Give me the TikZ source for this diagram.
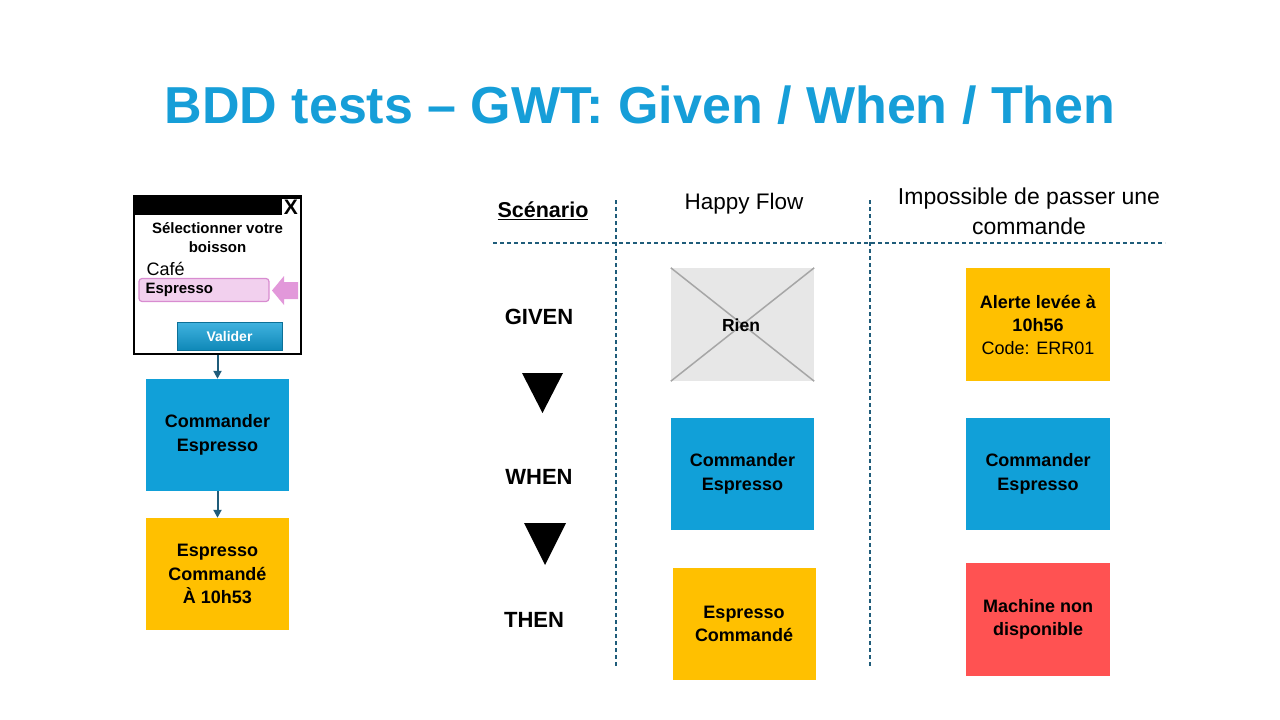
\documentclass[tikz,border=0pt]{standalone}
\usepackage{fontspec}
\setmainfont{Liberation Sans}
\usetikzlibrary{arrows.meta}
\definecolor{titleblue}{RGB}{22,158,216}
\definecolor{boxblue}{RGB}{17,160,216}
\definecolor{boxyellow}{RGB}{255,192,0}
\definecolor{boxred}{RGB}{255,82,82}
\definecolor{teal}{RGB}{31,92,122}
\definecolor{pinkfill}{RGB}{242,208,238}
\definecolor{pinkline}{RGB}{216,140,208}
\definecolor{pinkarrow}{RGB}{226,152,218}
\definecolor{riengray}{RGB}{231,231,231}
\definecolor{xgray}{RGB}{166,166,166}
\tikzset{
  card/.style={minimum width=143pt,minimum height=112pt,inner sep=0pt,align=center,
    font=\fontsize{18}{23.5}\selectfont\bfseries},
  bluecard/.style={card,fill=boxblue},
  yellowcard/.style={card,fill=boxyellow},
  redcard/.style={card,fill=boxred},
  flow/.style={draw=teal,line width=2pt,-{Triangle[length=8pt,width=8pt]}},
  grid/.style={draw=teal,line width=1.3pt,dash pattern=on 4pt off 3pt},
  phase/.style={font=\fontsize{22}{25}\selectfont\bfseries},
  head/.style={font=\fontsize{23}{30}\selectfont,align=center}
}
\begin{document}
\begin{tikzpicture}[x=1pt,y=-1pt]
\useasboundingbox (0,0) rectangle (1280,720);
% title
\node[text=titleblue,font=\fontsize{52}{60}\selectfont\bfseries] (title) at (640,105) {BDD tests -- GWT: Given / When / Then};

% dialog
\node[draw=black,line width=2pt,minimum width=167pt,minimum height=158pt,inner sep=0pt] (dlg) at (217.5,275) {};
\fill[black] (134,196) rectangle (301,215);
\node[fill=white,minimum width=18pt,minimum height=17pt,inner sep=0pt,font=\fontsize{21}{21}\selectfont\bfseries] (close) at (291,207) {X};
\node[font=\fontsize{15}{19}\selectfont\bfseries,align=center] (prompt) at (217.5,238) {Sélectionner votre\\boisson};
\node[anchor=west,font=\fontsize{18}{18}\selectfont] (cafe) at (143,269) {Café};
\node[draw=pinkline,fill=pinkfill,line width=1.2pt,rounded corners=3pt,minimum width=130pt,minimum height=23pt,inner sep=0pt] (esp) at (204,290) {};
\node[anchor=west,font=\fontsize{15}{15}\selectfont\bfseries] (esptext) at (142,290) {Espresso};
\fill[pinkarrow] (272,290.5) -- (284,276) -- (284,282) -- (298,282) -- (298,299) -- (284,299) -- (284,305) -- cycle;
\node[top color=boxblue!80!white,bottom color=boxblue!85!black,draw=boxblue!70!black,line width=0.4pt,minimum width=105pt,minimum height=28pt,inner sep=0pt,text=white,font=\fontsize{14}{15}\selectfont\bfseries] (valider) at (229.5,336) {Valider};

% left flow
\node[bluecard] (lcmd) at (217.5,435) {Commander\\Espresso};
\node[yellowcard] (ldone) at (217.5,574) {Espresso\\Commandé\\À 10h53};
\draw[flow] (dlg.south -| lcmd.north) -- (lcmd.north);
\draw[flow] (lcmd.south) -- (ldone.north);

% grid
\coordinate (v1t) at (616,200); \coordinate (v1b) at (616,667);
\coordinate (v2t) at (870,200); \coordinate (v2b) at (870,667);
\coordinate (hl) at (493,243); \coordinate (hr) at (1165,243);
\draw[grid] (v1t) -- (v1b);
\draw[grid] (v2t) -- (v2b);
\draw[grid] (hl) -- (hr);

\node[font=\fontsize{21.5}{24}\selectfont\bfseries] (scen) at (543,211) {\underline{Scénario}};
\node[head,font=\fontsize{22.5}{30}\selectfont] (happy) at (744,204) {Happy Flow};
\node[head] (imp) at (1029,211) {Impossible de passer une\\commande};

% phases
\node[phase] (given) at (539,317) {GIVEN};
\node[phase] (when) at (539,477) {WHEN};
\node[phase] (then) at (534,620) {THEN};
\fill[black] (522,373) -- (563,373) -- (542.5,413) -- cycle;
\fill[black] (524,523) -- (566,523) -- (545,565) -- cycle;

% happy flow column
\node[card,fill=riengray,minimum width=143pt,minimum height=113pt] (rien) at (742.5,324.5) {};
\draw[xgray,line width=1.5pt] (rien.north west) -- (rien.south east);
\draw[xgray,line width=1.5pt] (rien.south west) -- (rien.north east);
\node[font=\fontsize{17.5}{18}\selectfont\bfseries] (rientext) at (741,325) {Rien};
\node[bluecard] (hcmd) at (742.5,474) {Commander\\Espresso};
\node[yellowcard] (hdone) at (744,624) {Espresso\\Commandé};

% failure column
\node[yellowcard,minimum width=144pt,minimum height=113pt,font=\fontsize{18}{23}\selectfont] (alert) at (1038,324.5) {\textbf{Alerte levée à}\\\textbf{10h56}\\Code: ERR01};
\node[bluecard,minimum width=144pt] (fcmd) at (1038,474) {Commander\\Espresso};
\node[redcard,minimum width=144pt,minimum height=113pt] (fail) at (1038,619.5) {Machine non\\disponible};
\end{tikzpicture}
\end{document}
